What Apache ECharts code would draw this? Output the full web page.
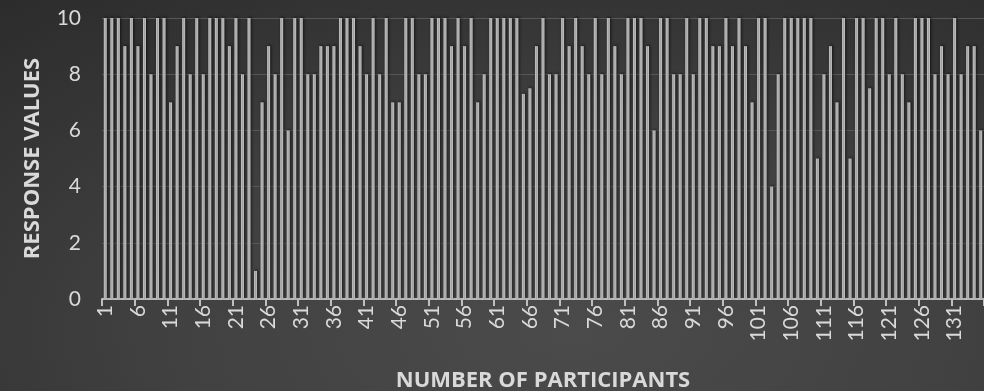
<!DOCTYPE html>
<html>
<head>
<meta charset="utf-8">
<title>Response values by participant</title>
<script src="https://cdn.jsdelivr.net/npm/echarts@6/dist/echarts.min.js"></script>
<style>
  html, body { margin: 0; padding: 0; }
  body {
    width: 984px; height: 391px; overflow: hidden;
    background: radial-gradient(ellipse 90% 110% at 58% 85%, #4b4b4b 0%, #414141 45%, #353535 75%, #2c2c2c 100%);
  }
  #chart { width: 984px; height: 391px; }
</style>
</head>
<body>
<div id="chart"></div>
<script>
// Participant numbers 1..135
const participants = [
  1, 2, 3, 4, 5, 6, 7, 8, 9, 10, 11, 12, 13, 14, 15, 16, 17, 18, 19, 20,
  21, 22, 23, 24, 25, 26, 27, 28, 29, 30, 31, 32, 33, 34, 35, 36, 37, 38, 39, 40,
  41, 42, 43, 44, 45, 46, 47, 48, 49, 50, 51, 52, 53, 54, 55, 56, 57, 58, 59, 60,
  61, 62, 63, 64, 65, 66, 67, 68, 69, 70, 71, 72, 73, 74, 75, 76, 77, 78, 79, 80,
  81, 82, 83, 84, 85, 86, 87, 88, 89, 90, 91, 92, 93, 94, 95, 96, 97, 98, 99, 100,
  101, 102, 103, 104, 105, 106, 107, 108, 109, 110, 111, 112, 113, 114, 115, 116, 117, 118, 119, 120,
  121, 122, 123, 124, 125, 126, 127, 128, 129, 130, 131, 132, 133, 134, 135
];

// Response value given by each participant
const responses = [
  10, 10, 10, 9, 10, 9, 10, 8, 10, 10, 7, 9, 10, 8, 10, 8, 10, 10, 10, 9,
  10, 8, 10, 1, 7, 9, 8, 10, 6, 10, 10, 8, 8, 9, 9, 9, 10, 10, 10, 9,
  8, 10, 8, 10, 7, 7, 10, 10, 8, 8, 10, 10, 10, 9, 10, 9, 10, 7, 8, 10,
  10, 10, 10, 10, 7.3, 7.5, 9, 10, 8, 8, 10, 9, 10, 9, 8, 10, 8, 10, 9, 8,
  10, 10, 10, 9, 6, 10, 10, 8, 8, 10, 8, 10, 10, 9, 9, 10, 9, 10, 9, 7,
  10, 10, 4, 8, 10, 10, 10, 10, 10, 5, 8, 9, 7, 10, 5, 10, 10, 7.5, 10, 10,
  8, 10, 8, 7, 10, 10, 10, 8, 9, 8, 10, 8, 9, 9, 6
];

// Value axis ticks
const yTicks = [0, 2, 4, 6, 8, 10];

const xTitle = 'NUMBER OF PARTICIPANTS';
const yTitle = 'RESPONSE VALUES';

const chart = echarts.init(document.getElementById('chart'), null, { renderer: 'canvas' });

const labelColor = '#d9d9d9';
const numberFont = '"DejaVu Sans ExtraLight", Lato, sans-serif';

chart.setOption({
  backgroundColor: 'transparent',
  animation: false,
  grid: { left: 102, right: 0, top: 18, bottom: 92, containLabel: false, outerBoundsMode: 'none' },
  xAxis: {
    type: 'category',
    data: participants.map(String),
    boundaryGap: true,
    name: xTitle,
    nameLocation: 'middle',
    nameGap: 71,
    nameTextStyle: {
      color: labelColor, fontFamily: 'Open Sans', fontWeight: 'bold', fontSize: 22
    },
    axisLine: { show: true, lineStyle: { color: '#bfbfbf', width: 2 } },
    axisTick: { show: true, interval: 4, length: 7, lineStyle: { color: '#bfbfbf', width: 2 } },
    axisLabel: {
      interval: 4, rotate: 90, margin: 6,
      color: labelColor, fontFamily: numberFont, fontSize: 21
    },
    splitLine: { show: false }
  },
  yAxis: {
    type: 'value',
    min: yTicks[0],
    max: yTicks[yTicks.length - 1],
    interval: yTicks[1] - yTicks[0],
    name: yTitle,
    nameLocation: 'middle',
    nameGap: 58,
    nameRotate: 90,
    nameTextStyle: {
      color: labelColor, fontFamily: 'Open Sans', fontWeight: 'bold', fontSize: 22
    },
    axisLine: { show: false },
    axisTick: { show: false },
    axisLabel: {
      margin: 21,
      color: labelColor, fontFamily: numberFont, fontSize: 21
    },
    splitLine: { show: true, lineStyle: { color: '#575757', width: 1 } }
  },
  series: [{
    type: 'bar',
    data: responses,
    barWidth: 3,
    itemStyle: {
      color: new echarts.graphic.LinearGradient(0, 0, 1, 0, [
        { offset: 0, color: '#c8c8c8' },
        { offset: 0.5, color: '#a2a2a2' },
        { offset: 1, color: '#c8c8c8' }
      ]),
      shadowColor: 'rgba(0,0,0,0.65)',
      shadowBlur: 3,
      shadowOffsetX: 1,
      shadowOffsetY: -1
    }
  }]
});
</script>
</body>
</html>
